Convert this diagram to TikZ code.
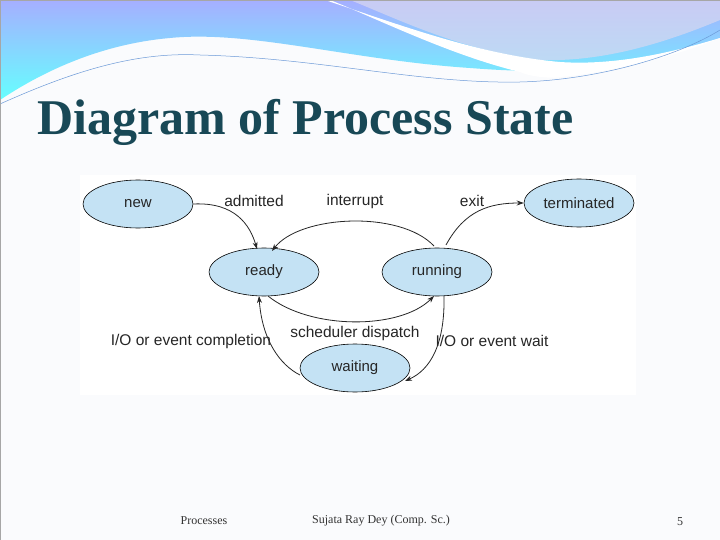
\documentclass[tikz,border=0pt]{standalone}
\usepackage{fontspec}
\setmainfont{Liberation Serif}
\newfontfamily\lab{Liberation Sans}
\begin{document}
\begin{tikzpicture}[x=1pt,y=-1pt,
  st/.style={ellipse,draw=black,line width=0.6pt,fill=myblue,minimum width=110pt,minimum height=48pt,inner sep=0pt,font=\lab\fontsize{15}{15}\selectfont,text=black!85},
  lb/.style={font=\lab\fontsize{15.5}{15.5}\selectfont,text=black!85},
  ar/.style={-{Stealth[length=7pt,width=5pt]},line width=0.8pt,black!85},
  foot/.style={font=\fontsize{12}{12}\selectfont,text=black!80}]
\definecolor{myblue}{RGB}{196,226,244}
\definecolor{titlec}{RGB}{24,72,86}
\definecolor{bg}{RGB}{250,251,253}
\usetikzlibrary{shapes.geometric,arrows.meta}
\useasboundingbox (0,0) rectangle (720,540);
\fill[bg] (0,0) rectangle (720,540);
% top waves
\shade[top color=cyan!10!blue!35!white,bottom color=cyan!60!white] (0,0) -- (720,0) -- (720,40) .. controls (600,70) and (560,75) .. (470,68) .. controls (350,60) and (250,30) .. (170,38) .. controls (90,45) and (30,80) .. (0,100) -- cycle;
\fill[cyan!25!blue!15!white,opacity=0.7] (350,0) -- (720,0) -- (720,20) .. controls (660,45) and (600,62) .. (540,60) .. controls (460,50) and (400,20) .. (350,0) -- cycle;
\fill[white] (325,0) .. controls (400,25) and (480,55) .. (560,62) .. controls (620,66) and (680,50) .. (720,38) -- (720,45) .. controls (680,62) and (560,90) .. (520,72) .. controls (450,55) and (380,20) .. (330,0) -- cycle;
\fill[bg] (0,540) -- (0,110) .. controls (80,70) and (140,50) .. (200,52) .. controls (320,55) and (420,82) .. (520,80) .. controls (600,78) and (680,55) .. (720,38) -- (720,540) -- cycle;
\draw[cyan!50!blue!60!white,line width=0.5pt] (0,104) .. controls (80,68) and (140,52) .. (200,55) .. controls (320,58) and (420,84) .. (520,82) .. controls (600,80) and (680,55) .. (720,30);
\draw[black!35,line width=0.8pt] (0,0) rectangle (720,540);
% title
\node[anchor=base west,inner sep=0,font=\bfseries\fontsize{50}{50}\selectfont,text=titlec] (title) at (37,135) {Diagram of Process State};
% diagram
\fill[white] (80,175) rectangle (636,395);
\node[st] (new) at (138,204) {new};
\node[st] (term) at (579,203) {terminated};
\node[st] (ready) at (264,272) {ready};
\node[st] (run) at (437,272) {running};
\node[st] (wait) at (355,368) {waiting};
\draw[ar] (new.east) .. controls (235,202) and (250,225) .. (257,249);
\draw[ar] (434,246) .. controls (400,210) and (300,215) .. (272,251);
\draw[ar] (446,245) .. controls (465,210) and (490,203) .. (term.west);
\draw[ar] (268,296) .. controls (310,330) and (400,330) .. (434,296);
\draw[ar] (444,296) .. controls (445,345) and (430,370) .. (405,381);
\draw[ar] (300,375) .. controls (280,365) and (262,340) .. (259,296);
\node[lb] (l1) at (254,201) {admitted};
\node[lb] (l2) at (355,201) {interrupt};
\node[lb] (l3) at (472,201) {exit};
\node[lb] (l4) at (355,333) {scheduler dispatch};
\node[lb] (l5) at (191,341) {I/O or event completion};
\node[lb] (l6) at (492,341) {I/O or event wait};
% footer
\node[foot] (f1) at (204,521) {Processes};
\node[foot] (f2) at (381,521) {Sujata Ray Dey (Comp. Sc.)};
\node[foot] (f3) at (680,522) {5};
\end{tikzpicture}
\end{document}
